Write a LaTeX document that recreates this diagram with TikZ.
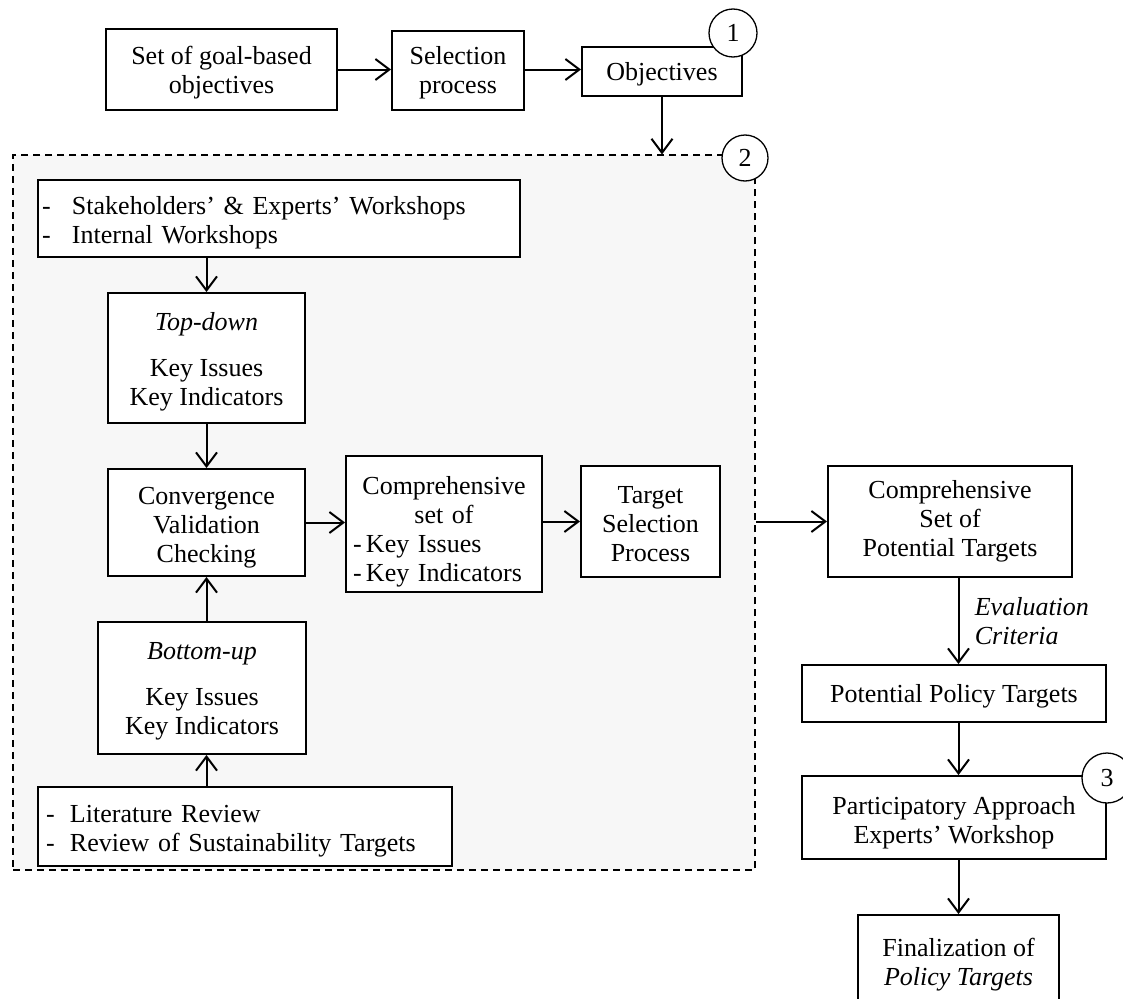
\documentclass[tikz,border=0pt]{standalone}
\usepackage{fontspec}
\setmainfont{Liberation Serif}
\usetikzlibrary{arrows.meta}

% pushes the text of a box down by #1 pt
\newcommand{\shiftdown}[1]{\rule{0pt}{\dimexpr18pt+#1pt*2\relax}}

\tikzset{
  box/.style={draw, line width=1.9pt, fill=white, align=center, inner sep=3pt,
    font=\fontsize{26}{29}\selectfont},
  listbox/.style={box, align=left},
  frame/.style={draw, dashed, dash pattern=on 7pt off 5pt, line width=1.1pt,
    fill=black!3, inner sep=0pt},
  num/.style={draw, circle, line width=1.3pt, fill=white, minimum size=48pt,
    inner sep=0pt, font=\fontsize{26}{29}\selectfont},
  arr/.style={line width=2pt, -{Straight Barb[length=14pt,width=21pt]}},
}

\begin{document}
\begin{tikzpicture}[x=1pt, y=-1pt]
  \useasboundingbox (0,0) rectangle (1123,998);

  % dashed frame of stage 2
  \node[frame, minimum width=742pt, minimum height=715pt] (stage) at (384,512.5) {};

  % stage 1
  \node[box, minimum width=231pt, minimum height=81pt] (goals) at (221.5,69.5) {\shiftdown{3}Set of goal-based\\objectives};
  \node[box, minimum width=132pt, minimum height=79pt] (select) at (458,70.5) {\shiftdown{2}Selection\\process};
  \node[box, minimum width=160pt, minimum height=49pt] (obj) at (662,71.5) {\shiftdown{3}Objectives};
  \node[num] (one) at (733,33) {1};

  \draw[arr] (goals.east) -- (select.west |- goals);
  \draw[arr] (select.east |- goals) -- (obj.west |- goals);
  \draw[arr] (obj.south) -- (obj.south |- stage.north);

  % stage 2
  \node[num, minimum size=46pt] (two) at (745,158) {2};
  \node[listbox, text width=474pt, inner xsep=4pt, minimum height=77pt] (work) at (279,218.5)
    {\shiftdown{4}\makebox[30pt][l]{-}Stakeholders’ \& Experts’ Workshops\\\makebox[30pt][l]{-}Internal Workshops};
  \node[box, minimum width=197pt, minimum height=130pt] (top) at (206.5,358)
    {\shiftdown{4}\textit{Top-down}\\[17pt]Key Issues\\Key Indicators};
  \node[box, minimum width=197pt, minimum height=107pt] (conv) at (206.5,522.5)
    {\shiftdown{5}Convergence\\Validation\\Checking};
  \node[listbox, text width=182pt, inner xsep=7pt, minimum width=196pt, minimum height=136pt] (cset) at (444,524)
    {\makebox[\linewidth]{\shiftdown{8}Comprehensive}\\\makebox[\linewidth]{set of}\\-\,Key Issues\\-\,Key Indicators};
  \node[box, minimum width=139pt, minimum height=111pt] (tsel) at (650.5,521.5)
    {\shiftdown{2}Target\\Selection\\Process};
  \node[box, minimum width=208pt, minimum height=132pt] (bot) at (202,688)
    {\shiftdown{3}\textit{Bottom-up}\\[17pt]Key Issues\\Key Indicators};
  \node[listbox, text width=398pt, inner xsep=8pt, minimum height=79pt] (lit) at (245,826.5)
    {\shiftdown{4}\makebox[24pt][l]{-}Literature Review\\\makebox[24pt][l]{-}Review of Sustainability Targets};

  \draw[arr] (top.north |- work.south) -- (top.north);
  \draw[arr] (top.south) -- (conv.north);
  \draw[arr] (conv.south |- bot.north) -- (conv.south);
  \draw[arr] (conv.south |- lit.north) -- (conv.south |- bot.south);
  \draw[arr] (conv.east) -- (cset.west |- conv);
  \draw[arr] (cset.east |- tsel) -- (tsel.west);

  % stage 3
  \node[box, minimum width=244pt, minimum height=111pt] (cpot) at (950,521.5)
    {Comprehensive\\Set of\\Potential Targets};
  \node[box, minimum width=304pt, minimum height=57pt] (ppol) at (954,693.5)
    {\shiftdown{3}Potential Policy Targets};
  \node[box, minimum width=304pt, minimum height=83pt] (part) at (954,817.5)
    {\shiftdown{5}Participatory Approach\\Experts’ Workshop};
  \node[num, minimum size=50pt] (three) at (1107,778) {3};
  \node[box, minimum width=201pt, minimum height=100pt] (final) at (958.5,965)
    {Finalization of\\\textit{Policy Targets}};

  \draw[arr] (stage.east |- cpot) -- (cpot.west);
  \draw[arr] (cpot.south -| final) -- node[right, xshift=12pt, align=left,
    font=\fontsize{26}{29}\selectfont\itshape] (crit) {Evaluation\\Criteria} (ppol.north -| final);
  \draw[arr] (ppol.south -| final) -- (part.north -| final);
  \draw[arr] (part.south -| final) -- (final.north);
\end{tikzpicture}
\end{document}
